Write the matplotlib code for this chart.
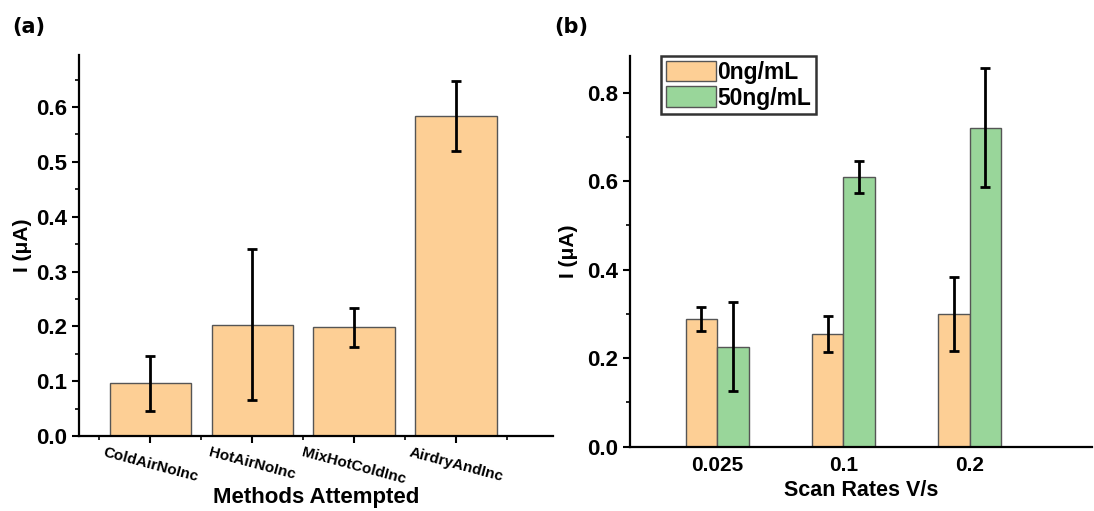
import matplotlib
matplotlib.use("Agg")
import matplotlib.pyplot as plt
from matplotlib.ticker import MultipleLocator, FixedLocator
import numpy as np

# ------------------------------------------------------------------------------------------
# data
methods = ["ColdAirNoInc", "HotAirNoInc", "MixHotColdInc", "AirdryAndInc"]
methods_mean = [0.096, 0.203, 0.198, 0.583]
methods_err = [0.050, 0.138, 0.036, 0.064]

scan_rates = ["0.025", "0.1", "0.2"]
series_labels = ["0ng/mL", "50ng/mL"]
mean_0ng = [0.289, 0.255, 0.300]
err_0ng = [0.027, 0.041, 0.083]
mean_50ng = [0.226, 0.610, 0.721]
err_50ng = [0.100, 0.036, 0.135]

# ------------------------------------------------------------------------------------------
plt.rcParams.update({"font.family": ["Liberation Sans", "DejaVu Sans"],
                     "font.weight": "bold", "font.size": 14})
col_orange = "#FDCF95"
col_green = "#99D69A"
col_edge = "#555555"

fig = plt.figure(figsize=(10.94, 5.11), dpi=100)

# ------------------------------------------------------------------------------------------
# panel (a)
ax_a = fig.add_axes([0.0722, 0.1468, 0.4333, 0.7456])
x_a = np.arange(len(methods))
ax_a.bar(x_a, methods_mean, width=0.8, color=col_orange, edgecolor=col_edge, linewidth=1.0)
ax_a.errorbar(x_a, methods_mean, yerr=methods_err, fmt="none", ecolor="black",
              elinewidth=2, capsize=3.5, capthick=2)
ax_a.set_xlim(-0.7, 3.95)
ax_a.set_ylim(0, 0.695)
ax_a.yaxis.set_major_locator(MultipleLocator(0.1))
ax_a.yaxis.set_minor_locator(MultipleLocator(0.05))
ax_a.set_xticks(x_a)
ax_a.xaxis.set_minor_locator(FixedLocator([-0.5, 0.5, 1.5, 2.5, 3.5]))
ax_a.set_xticklabels(methods, rotation=-15, fontsize=11, ha="center")
ax_a.set_ylabel("I (μA)", fontsize=15, fontweight="bold", labelpad=3)
ax_a.set_xlabel("Methods Attempted", fontsize=16, fontweight="bold", labelpad=0)
fig.text(0.011, 0.935, "(a)", fontsize=15, fontweight="bold", family="DejaVu Sans")

# ------------------------------------------------------------------------------------------
# panel (b)
ax_b = fig.add_axes([0.5759, 0.1258, 0.4223, 0.7646])
x_b = np.arange(len(scan_rates))
w = 0.25
ax_b.bar(x_b - w / 2, mean_0ng, width=w, color=col_orange, edgecolor=col_edge,
         linewidth=1.0, label=series_labels[0])
ax_b.bar(x_b + w / 2, mean_50ng, width=w, color=col_green, edgecolor=col_edge,
         linewidth=1.0, label=series_labels[1])
ax_b.errorbar(x_b - w / 2, mean_0ng, yerr=err_0ng, fmt="none", ecolor="black",
              elinewidth=2, capsize=3.5, capthick=2)
ax_b.errorbar(x_b + w / 2, mean_50ng, yerr=err_50ng, fmt="none", ecolor="black",
              elinewidth=2, capsize=3.5, capthick=2)
ax_b.set_xlim(-0.69, 2.97)
ax_b.set_ylim(0, 0.883)
ax_b.yaxis.set_major_locator(MultipleLocator(0.2))
ax_b.yaxis.set_minor_locator(MultipleLocator(0.1))
ax_b.set_xticks(x_b)
ax_b.set_xticklabels(scan_rates, fontsize=15)
ax_b.tick_params(axis="x", length=0, pad=7)
ax_b.set_ylabel("I (μA)", fontsize=15, fontweight="bold", labelpad=7)
ax_b.set_xlabel("Scan Rates V/s", fontsize=15.5, fontweight="bold", labelpad=3)
leg = ax_b.legend(loc="upper left", bbox_to_anchor=(0.067, 1.0), frameon=True, fancybox=False,
                  handlelength=2.2, handleheight=1.0, handletextpad=0.05, borderpad=0.2,
                  labelspacing=0.12, borderaxespad=0.0, prop={"weight": "bold", "size": 16.5})
leg.get_frame().set_edgecolor("black")
leg.get_frame().set_linewidth(1.8)
fig.text(0.507, 0.935, "(b)", fontsize=15, fontweight="bold", family="DejaVu Sans")

for ax in (ax_a, ax_b):
    ax.spines["top"].set_visible(False)
    ax.spines["right"].set_visible(False)
    ax.spines["left"].set_linewidth(1.6)
    ax.spines["bottom"].set_linewidth(1.6)
    ax.tick_params(axis="y", which="major", direction="out", length=5, width=1.5, labelsize=16)
    ax.tick_params(axis="y", which="minor", direction="out", length=3, width=1.2)
    for lbl in ax.get_yticklabels() + ax.get_xticklabels():
        lbl.set_fontweight("bold")
ax_a.tick_params(axis="x", which="major", direction="out", length=5, width=1.5, pad=2)
ax_a.tick_params(axis="x", which="minor", direction="out", length=3, width=1.2)

fig.savefig("out.png", dpi=100)
